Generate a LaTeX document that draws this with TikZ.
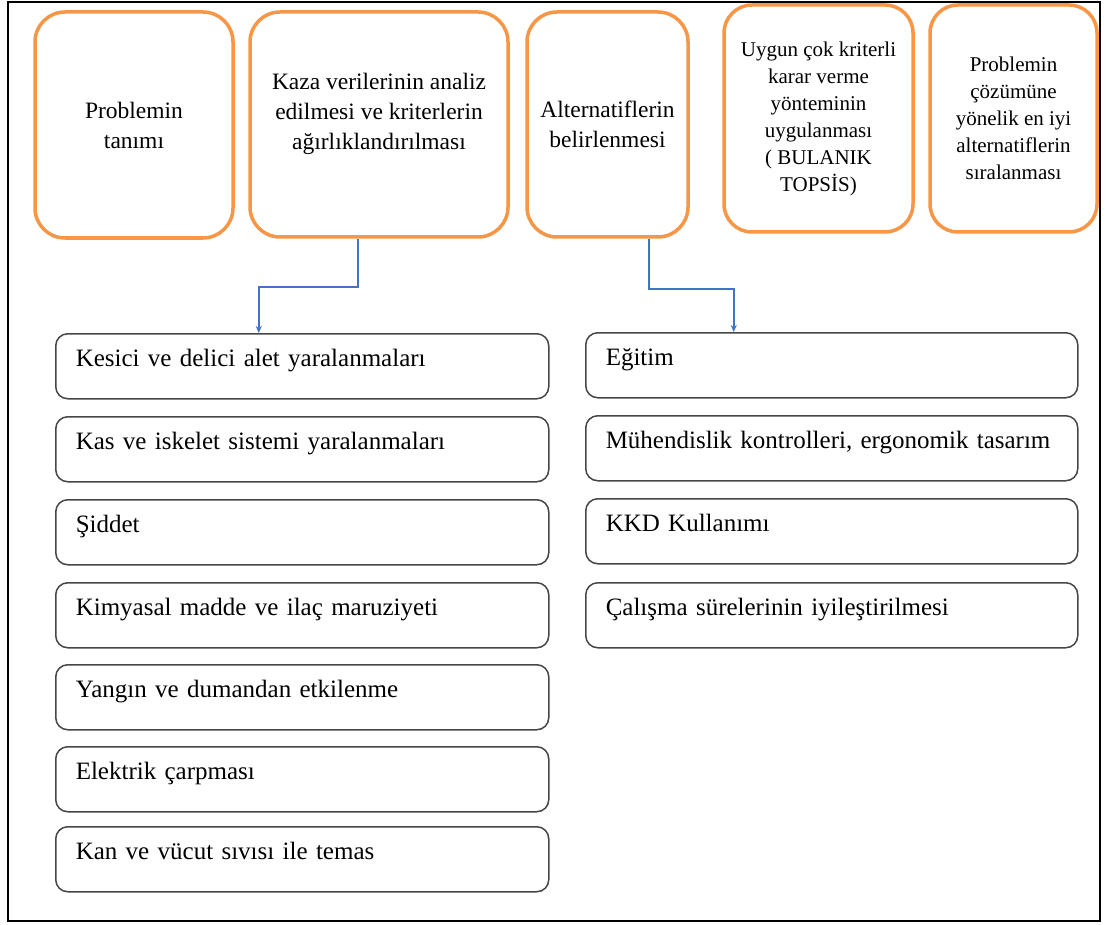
\documentclass[tikz,border=0pt]{standalone}
\usepackage{fontspec}
\setmainfont{Liberation Serif}
\newfontfamily\tnr{Liberation Serif}
\usetikzlibrary{arrows.meta}
\definecolor{orng}{RGB}{247,150,70}
\definecolor{arrblue}{RGB}{68,114,196}
\definecolor{gbord}{RGB}{70,70,70}
\begin{document}
\begin{tikzpicture}[x=1pt,y=-1pt,
 topbox/.style={draw=orng, line width=3.5pt, rounded corners=30pt, align=center, inner sep=0pt},
 bigtxt/.style={font=\tnr\fontsize{23.5}{30}\selectfont, align=center},
 smalltxt/.style={font=\tnr\fontsize{21}{27}\selectfont, align=center},
 listbox/.style={draw=gbord, line width=1.5pt, rounded corners=12pt, anchor=north west,
   minimum width=493pt, text width=453pt, inner xsep=20pt, inner ysep=0pt,
   text height=33pt, text depth=32pt, align=left, font=\tnr\fontsize{25}{29}\selectfont},
 arr/.style={draw=arrblue, line width=1.5pt, -{Stealth[length=7pt,width=6pt]}}
]
\useasboundingbox (0,0) rectangle (1107,925);
\draw[line width=1.5pt] (8,2) rectangle (1100,921);

% top row
\node[topbox, bigtxt, minimum width=198pt, minimum height=226pt] (b1) at (134,125) {Problemin\\tanımı};
\node[topbox, minimum width=258pt, minimum height=225pt] (b2) at (379,124.5) {};
\node[bigtxt] (b2t) at ([yshift=11pt]b2.center) {Kaza verilerinin analiz\\edilmesi ve kriterlerin\\ağırlıklandırılması};
\node[topbox, bigtxt, minimum width=161pt, minimum height=225pt] (b3) at (607.5,124.5) {Alternatiflerin\\belirlenmesi};
\node[topbox, smalltxt, rounded corners=28pt, minimum width=189pt, minimum height=227pt] (b4) at (818.5,118.5) {Uygun çok kriterli\\karar verme\\yönteminin\\uygulanması\\( BULANIK\\TOPSİS)};
\node[topbox, smalltxt, rounded corners=28pt, minimum width=167pt, minimum height=227pt] (b5) at (1013.5,118.5) {Problemin\\çözümüne\\yönelik en iyi\\alternatiflerin\\sıralanması};

% left list
\node[listbox] (k1) at (55,333) {Kesici ve delici alet yaralanmaları};
\node[listbox] (k2) at (55,416) {Kas ve iskelet sistemi yaralanmaları};
\node[listbox] (k3) at (55,499) {Şiddet};
\node[listbox] (k4) at (55,582) {Kimyasal madde ve ilaç maruziyeti};
\node[listbox] (k5) at (55,664) {Yangın ve dumandan etkilenme};
\node[listbox] (k6) at (55,746) {Elektrik çarpması};
\node[listbox] (k7) at (55,826) {Kan ve vücut sıvısı ile temas};

% right list
\node[listbox, minimum width=492pt, text width=452pt] (e1) at (585,332) {Eğitim};
\node[listbox, minimum width=492pt, text width=452pt] (e2) at (585,415) {Mühendislik kontrolleri, ergonomik tasarım};
\node[listbox, minimum width=492pt, text width=452pt] (e3) at (585,498) {KKD Kullanımı};
\node[listbox, minimum width=492pt, text width=452pt] (e4) at (585,582) {Çalışma sürelerinin iyileştirilmesi};

% connectors
\draw[arr] ([xshift=-21pt]b2.south) -- ++(0,48) -| ([xshift=-43.5pt]k1.north);
\draw[arr] ([xshift=41.5pt]b3.south) -- ++(0,50) -| ([xshift=-98pt]e1.north);
\end{tikzpicture}
\end{document}
